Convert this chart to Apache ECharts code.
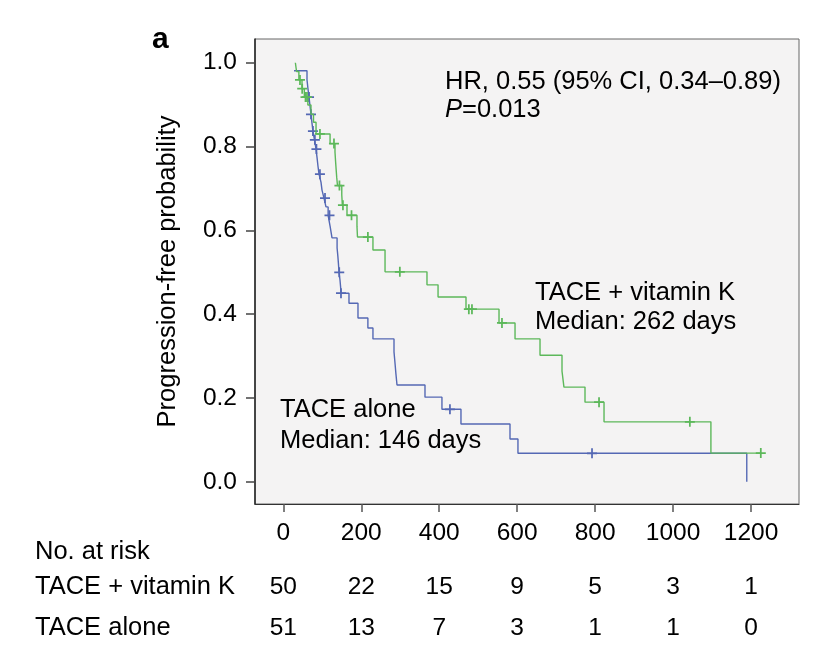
<!DOCTYPE html>
<html>
<head>
<meta charset="utf-8">
<script src="https://cdn.jsdelivr.net/npm/echarts@6/dist/echarts.min.js"></script>
<style>html,body{margin:0;padding:0;background:#fff;}#c{width:836px;height:658px;}</style>
</head>
<body>
<div id="c"></div>
<script>
// ---- data ----
const xTicks = [0, 200, 400, 600, 800, 1000, 1200];
const yTicks = [0, 0.2, 0.4, 0.6, 0.8, 1.0];
const groups = ['TACE + vitamin K', 'TACE alone'];
// Kaplan-Meier steps: [time (days), survival after that time]
const vitKSteps = [[31,1.0],[34,0.979],[40,0.959],[48,0.938],[54,0.918],[63,0.899],[71,0.877],[77.5,0.858],[84,0.83],[120,0.807],[132.6,0.787],[134,0.766],[135.5,0.746],[137,0.727],[139,0.707],[150,0.685],[151.5,0.66],[163.4,0.636],[189,0.61],[190.3,0.584],[230,0.553],[261,0.501],[368.6,0.47],[397,0.441],[468.7,0.412],[553.4,0.379],[594.5,0.341],[658.6,0.302],[715,0.264],[720,0.226],[774,0.19],[822.8,0.143],[1097,0.0685],[1225,0.0685]];
const aloneSteps = [[27.5,0.981],[60.8,0.959],[63.4,0.937],[66,0.918],[68.5,0.897],[71,0.877],[73.6,0.856],[76,0.837],[80,0.816],[84,0.794],[86.5,0.774],[89,0.753],[91.6,0.734],[96.7,0.715],[99.3,0.696],[104.4,0.677],[109.5,0.656],[115,0.636],[120,0.61],[125,0.582],[138,0.558],[140,0.538],[141.5,0.52],[143,0.5],[145.5,0.481],[147,0.465],[148,0.45],[168.5,0.426],[191.6,0.391],[217,0.367],[230,0.341],[284,0.31],[286.6,0.283],[289,0.257],[291.7,0.231],[363.5,0.202],[407,0.173],[455.8,0.138],[581.6,0.102],[602,0.068],[1189,0]];
// censoring times
const vitKCensor = [42.8, 48.5, 57, 60.8, 94, 130, 144, 153, 175, 217, 299, 476, 484, 561, 810, 1043, 1225];
const aloneCensor = [66, 71, 76, 81, 85, 94, 107, 118.5, 143.5, 148, 427.5, 792];
// number at risk
const riskTimes = [0, 200, 400, 600, 800, 1000, 1200];
const riskVitK = [50, 22, 15, 9, 5, 3, 1];
const riskAlone = [51, 13, 7, 3, 1, 1, 0];

const GREEN = '#5cb85a', BLUE = '#5468b4';
const FF = '"Liberation Sans", Arial, Helvetica, sans-serif';
const FS = 25.5;
const X_MIN = -72.6, X_MAX = 1323, Y_MIN = -0.053, Y_MAX = 1.0566;

function sAt(steps, t) {
  let s = steps[0][1];
  for (const p of steps) { if (p[0] <= t) s = p[1]; }
  return s;
}
const plus = 'path://M-0.7,-4 H0.7 V4 H-0.7 Z M-4,-0.7 H4 V0.7 H-4 Z';

const riskData = [];
riskTimes.forEach((t, i) => {
  riskData.push([t, groups[0], riskVitK[i]]);
  riskData.push([t, groups[1], riskAlone[i]]);
});

const chart = echarts.init(document.getElementById('c'), null, {renderer: 'canvas'});
chart.setOption({
  animation: false,
  backgroundColor: '#ffffff',
  grid: [
    {left: 255, right: 37, top: 39, bottom: 154, show: true, backgroundColor: '#f4f3f3', borderColor: '#666', borderWidth: 1},
    {left: 255, right: 37, top: 566.5, height: 82}
  ],
  xAxis: [
    {type: 'value', gridIndex: 0, min: X_MIN, max: X_MAX,
     axisLine: {show: true, onZero: false, lineStyle: {color: '#333', width: 1.2}},
     axisTick: {show: true, length: 8, customValues: xTicks, lineStyle: {color: '#555', width: 1.5}},
     axisLabel: {customValues: xTicks, margin: 17, fontSize: 24.5, color: '#000', fontFamily: FF,
                 formatter: v => String(v)},
     splitLine: {show: false}},
    {type: 'value', gridIndex: 1, min: X_MIN, max: X_MAX, show: false}
  ],
  yAxis: [
    {type: 'value', gridIndex: 0, min: Y_MIN, max: Y_MAX,
     name: 'Progression-free probability', nameLocation: 'middle', nameRotate: 90, nameGap: 74,
     nameTextStyle: {fontSize: FS, color: '#000', fontFamily: FF},
     axisLine: {show: true, onZero: false, lineStyle: {color: '#222', width: 1.5}},
     axisTick: {show: true, length: 9, customValues: yTicks, lineStyle: {color: '#444', width: 1.5}},
     axisLabel: {customValues: yTicks, margin: 18, fontSize: 24.5, color: '#000', fontFamily: FF,
                 formatter: v => v.toFixed(1)},
     splitLine: {show: false}},
    {type: 'category', gridIndex: 1, data: groups, inverse: true,
     axisLine: {show: false}, axisTick: {show: false}, splitLine: {show: false},
     axisLabel: {align: 'left', margin: 220, fontSize: FS, color: '#000', fontFamily: FF}}
  ],
  series: [
    {type: 'line', name: 'TACE alone', xAxisIndex: 0, yAxisIndex: 0, step: 'end', data: aloneSteps,
     showSymbol: false, lineStyle: {color: BLUE, width: 1.4}, z: 2},
    {type: 'scatter', xAxisIndex: 0, yAxisIndex: 0, symbol: plus, symbolSize: 10,
     itemStyle: {color: BLUE, opacity: 1}, data: aloneCensor.map(t => [t, sAt(aloneSteps, t)]), z: 3},
    {type: 'line', name: 'TACE + vitamin K', xAxisIndex: 0, yAxisIndex: 0, step: 'end', data: vitKSteps,
     showSymbol: false, lineStyle: {color: GREEN, width: 1.4}, z: 4},
    {type: 'scatter', xAxisIndex: 0, yAxisIndex: 0, symbol: plus, symbolSize: 10,
     itemStyle: {color: GREEN, opacity: 1}, data: vitKCensor.map(t => [t, sAt(vitKSteps, t)]), z: 5},
    {type: 'scatter', xAxisIndex: 1, yAxisIndex: 1, symbolSize: 0, data: riskData,
     itemStyle: {opacity: 1},
     label: {show: true, position: 'inside', formatter: p => String(p.value[2]),
             fontSize: 24.5, color: '#000', fontFamily: FF}}
  ],
  graphic: [
    {type: 'text', x: 152, y: 40, style: {text: 'a', font: 'bold 30px ' + FF, fill: '#000', verticalAlign: 'middle'}},
    {type: 'text', x: 445, y: 82, style: {text: 'HR, 0.55 (95% CI, 0.34\u20130.89)', font: FS + 'px ' + FF, fill: '#000', verticalAlign: 'middle'}},
    {type: 'text', x: 445, y: 110, style: {text: '{i|P}=0.013', font: FS + 'px ' + FF, fill: '#000', verticalAlign: 'middle',
      rich: {i: {fontStyle: 'italic', fontSize: FS, fontFamily: FF, fill: '#000'}}}},
    {type: 'text', x: 535, y: 293, style: {text: 'TACE + vitamin K', font: FS + 'px ' + FF, fill: '#000', verticalAlign: 'middle'}},
    {type: 'text', x: 535, y: 322, style: {text: 'Median: 262 days', font: FS + 'px ' + FF, fill: '#000', verticalAlign: 'middle'}},
    {type: 'text', x: 280, y: 410, style: {text: 'TACE alone', font: FS + 'px ' + FF, fill: '#000', verticalAlign: 'middle'}},
    {type: 'text', x: 280, y: 441, style: {text: 'Median: 146 days', font: FS + 'px ' + FF, fill: '#000', verticalAlign: 'middle'}},
    {type: 'text', x: 35, y: 552, style: {text: 'No. at risk', font: FS + 'px ' + FF, fill: '#000', verticalAlign: 'middle'}}
  ]
});
</script>
</body>
</html>
